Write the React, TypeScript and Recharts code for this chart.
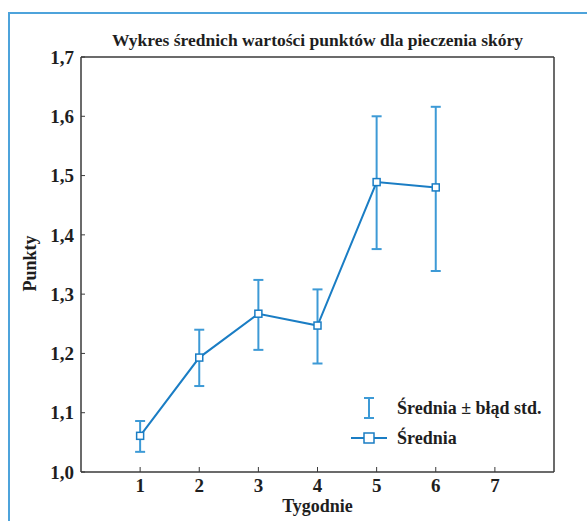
import { LineChart, Line, XAxis, YAxis, ErrorBar, Legend } from "recharts"

const weeks = [1, 2, 3, 4, 5, 6]
const means = [1.061, 1.193, 1.267, 1.247, 1.489, 1.48]
const lowerEnds = [1.034, 1.145, 1.206, 1.183, 1.376, 1.339]
const upperEnds = [1.086, 1.24, 1.324, 1.308, 1.6, 1.616]
const xTicks = [1, 2, 3, 4, 5, 6, 7]
const yTicks = [1.0, 1.1, 1.2, 1.3, 1.4, 1.5, 1.6, 1.7]

const LINE = "#1a7dc4"
const ERR = "#3d9ad6"
const FRAME = "#3a3a3a"
const FONT = "Liberation Serif"

const data = weeks.map((w, i) => ({
  week: w,
  mean: means[i],
  err: [means[i] - lowerEnds[i], upperEnds[i] - means[i]],
}))

const tickStyle = { fontFamily: FONT, fontSize: 19, fontWeight: 700, fill: "#1e1e1e" }
const textCss = { fontFamily: FONT, fontSize: 18, fontWeight: 700, color: "#1e1e1e", whiteSpace: "nowrap" as const }
const fmt = (v: number) => v.toFixed(1).replace(".", ",")
const frameLine = { stroke: FRAME, strokeWidth: 1.5 }

const SquareDot = (props: any) => {
  const { cx, cy, index } = props
  return <rect key={index} x={cx - 3.5} y={cy - 3.5} width={7} height={7} fill="#fff" stroke={LINE} strokeWidth={1.5} />
}

const LegendBox = () => (
  <svg width={210} height={60}>
    <g stroke={ERR} strokeWidth={2}>
      <line x1={24} y1={6} x2={24} y2={26} />
      <line x1={19} y1={6} x2={29} y2={6} />
      <line x1={19} y1={26} x2={29} y2={26} />
    </g>
    <line x1={6} y1={46} x2={42} y2={46} stroke={LINE} strokeWidth={2} />
    <rect x={19} y={41} width={10} height={10} fill="#fff" stroke={LINE} strokeWidth={1.5} />
    <text x={52} y={22} style={{ ...tickStyle, fontSize: 18 }}>Średnia ± błąd std.</text>
    <text x={52} y={52} style={{ ...tickStyle, fontSize: 18 }}>Średnia</text>
  </svg>
)

export default function App() {
  return (
    <div style={{ position: "absolute", left: 0, top: 0, width: 587, height: 521, overflow: "hidden", background: "#fff" }}>
      <div style={{ position: "absolute", left: 8, top: 12, width: 640, height: 600, border: "2px solid #4da3db" }} />
      <div style={{ ...textCss, fontSize: 17.5, position: "absolute", left: 81, width: 473, top: 30, textAlign: "center" }}>
        Wykres średnich wartości punktów dla pieczenia skóry
      </div>
      <div style={{ ...textCss, position: "absolute", left: 81, width: 473, top: 496, textAlign: "center" }}>Tygodnie</div>
      <div
        style={{
          ...textCss,
          position: "absolute",
          left: 30 - 60,
          width: 120,
          top: 264 - 11,
          textAlign: "center",
          transform: "rotate(-90deg)",
        }}
      >
        Punkty
      </div>
      <div style={{ position: "absolute", left: 0, top: 0 }}>
        <LineChart width={587} height={521} data={data} margin={{ top: 56, right: 32, bottom: 0, left: 0 }}>
          <XAxis
            xAxisId="b"
            dataKey="week"
            type="number"
            domain={[0, 8]}
            ticks={xTicks}
            tickLine={{ stroke: FRAME }}
            tickSize={-5}
            axisLine={frameLine}
            tick={tickStyle}
            tickMargin={12}
            height={49}
          />
          <XAxis xAxisId="t" type="number" domain={[0, 8]} ticks={xTicks} orientation="top" height={1} tick={false} axisLine={frameLine} tickLine={{ stroke: FRAME }} tickSize={-5} />
          <YAxis
            yAxisId="l"
            type="number"
            domain={[1, 1.7]}
            ticks={yTicks}
            tickFormatter={fmt}
            tickLine={{ stroke: FRAME }}
            tickSize={-4}
            axisLine={frameLine}
            tick={tickStyle}
            tickMargin={11}
            width={81}
          />
          <YAxis yAxisId="r" type="number" domain={[1, 1.7]} ticks={yTicks} orientation="right" width={1} tick={false} axisLine={frameLine} tickLine={{ stroke: FRAME }} tickSize={-4} />
          <Legend
            layout="vertical"
            align="center"
            verticalAlign="middle"
            content={() => <LegendBox />}
            wrapperStyle={{ left: 345, top: 392, width: 210, height: 60 }}
          />
          <Line
            xAxisId="b"
            yAxisId="l"
            dataKey="mean"
            stroke={LINE}
            strokeWidth={2}
            dot={SquareDot}
            activeDot={false}
            isAnimationActive={false}
          >
            <ErrorBar dataKey="err" direction="y" width={5} stroke={ERR} strokeWidth={2} isAnimationActive={false} />
          </Line>
        </LineChart>
      </div>
    </div>
  )
}
